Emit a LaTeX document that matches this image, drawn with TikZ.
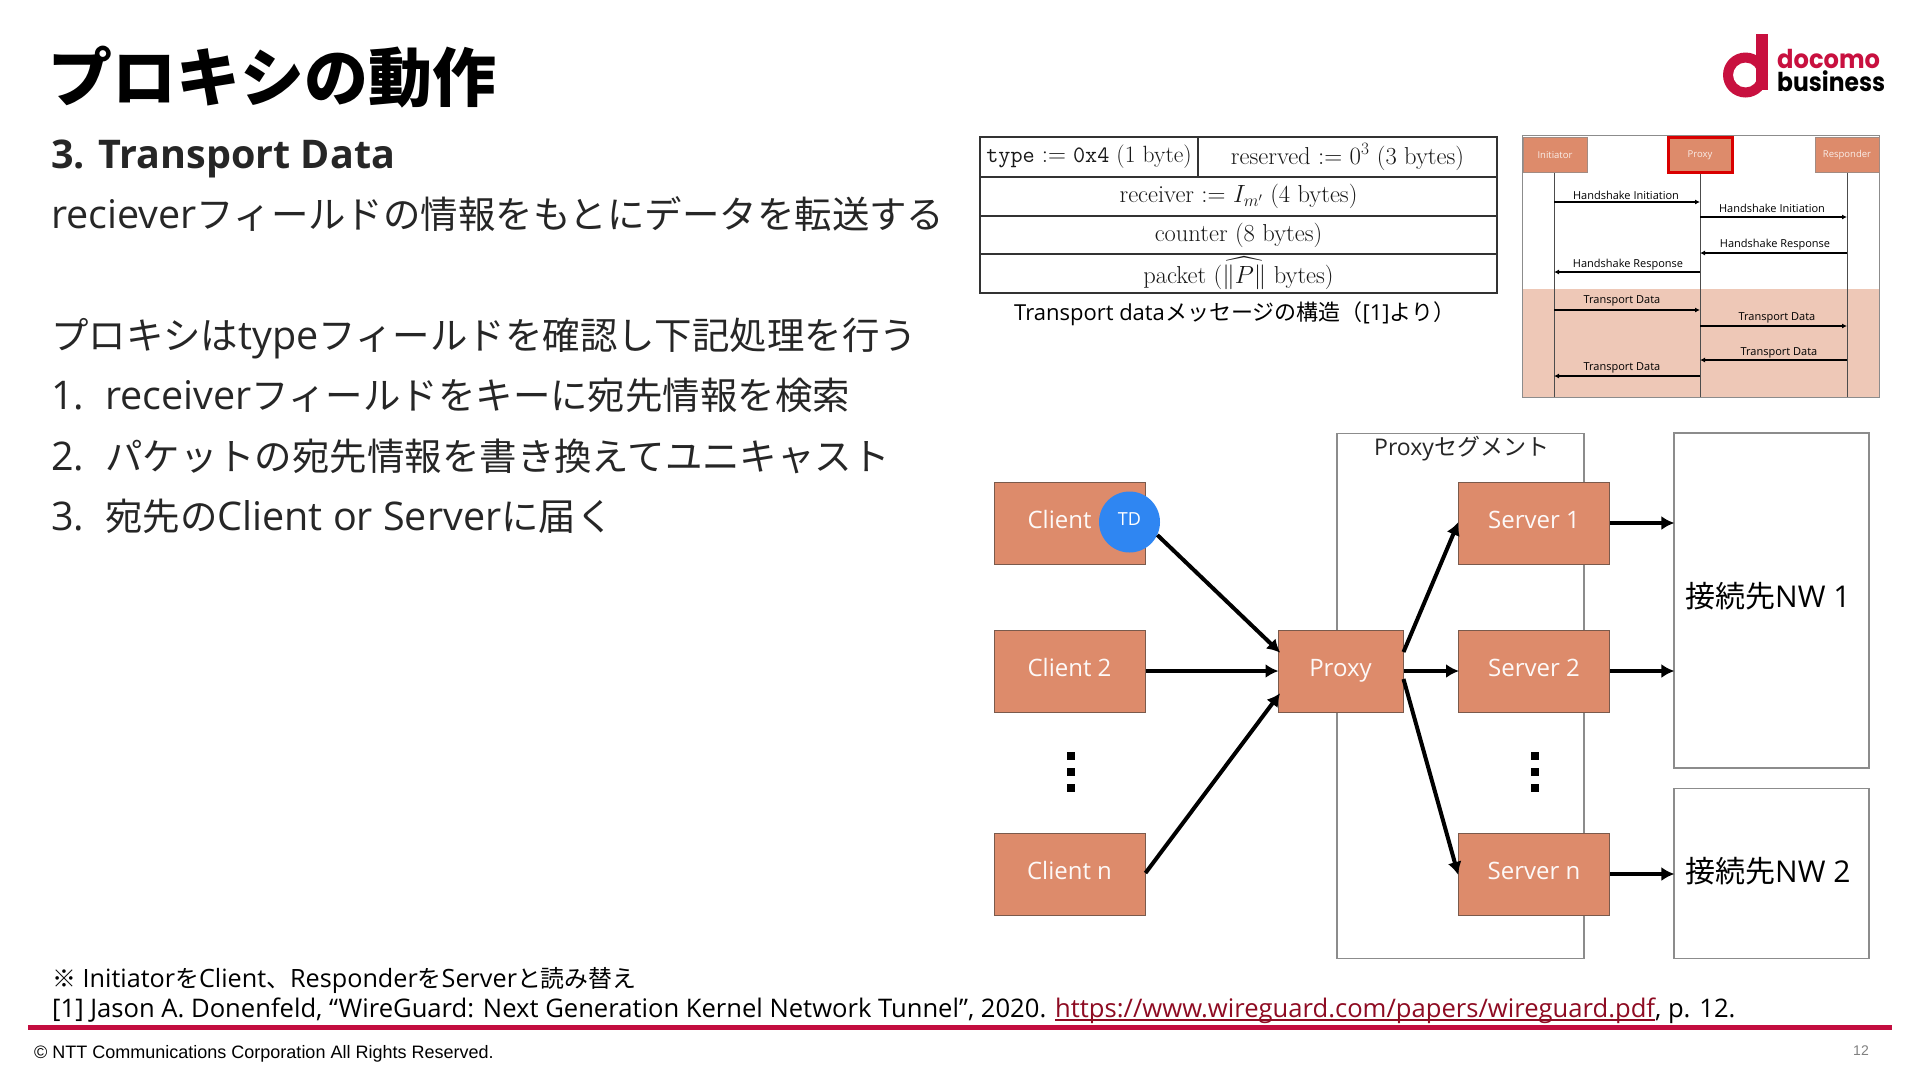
\documentclass[tikz,border=0pt]{standalone}
\usepackage{fontspec}
\usepackage{amsmath}
\usepackage{graphicx}
\usetikzlibrary{arrows.meta}
\setmainfont{Open Sans}
\newfontfamily\jp[Scale=0.948]{Noto Sans CJK JP}
\newfontfamily\jpu{Noto Sans CJK JP}
\newfontfamily\arial{Liberation Sans}
\newfontfamily\logof{Poppins}
\newfontfamily\lmr{Latin Modern Roman}
\newfontfamily\lmt{Latin Modern Mono}
\newcommand{\fs}[1]{\fontsize{#1}{#1}\selectfont}
\newcommand{\J}[1]{{\jp #1}}
\newcommand{\K}[1]{{\jpu #1}}
\newsavebox{\ulbox}
\newcommand{\thickul}[1]{\sbox{\ulbox}{#1}\rlap{\rule[-3.5pt]{\wd\ulbox}{1.5pt}}\usebox{\ulbox}}
\definecolor{txt}{HTML}{262626}
\definecolor{boxfill}{HTML}{DD8B6B}
\definecolor{boxline}{HTML}{7A5A4C}
\definecolor{band}{HTML}{EEC8B7}
\definecolor{rail}{HTML}{C30D3F}
\definecolor{logored}{HTML}{C8103F}
\definecolor{tdblue}{HTML}{2F86F2}
\definecolor{linkred}{HTML}{8E0B22}
\definecolor{framegray}{HTML}{8C8C8C}
\tikzset{
  body/.style={anchor=base west,inner sep=0pt,text=txt,font=\fs{39.5}},
  foot/.style={anchor=base west,inner sep=0pt,text=black,font=\fs{25.6}},
  orange/.style={draw=boxline,line width=1pt,fill=boxfill,text=white!95!boxfill,inner sep=0pt,font=\fs{24},text height=20pt,text depth=10pt},
  plainbox/.style={draw=framegray,line width=1.2pt,fill=none,inner sep=0pt},
  flow/.style={line width=4pt,draw=black,-{Latex[length=13pt,width=14pt]},shorten >=-1pt},
  cell/.style={draw=black!80,line width=2pt,inner sep=0pt,anchor=center,font=\lmr\fs{24.5},text=black!90},
  smallorange/.style={draw=boxline!70,line width=.6pt,fill=boxfill,text=white!85!boxfill,inner sep=0pt,font=\fs{9.5}},
  life/.style={line width=.9pt,draw=black!70},
  msg/.style={line width=1.3pt,draw=black,-{Latex[length=5pt,width=5pt]}},
  msglabel/.style={inner sep=0pt,text=black,font=\fs{11}},
  squaredot/.style={fill=black,inner sep=0pt,minimum size=8pt,draw=none}
}
\begin{document}
\begin{tikzpicture}[x=1pt,y=-1pt]
\useasboundingbox[fill=white] (0,0) rectangle (1920,1080);

% title and body
\node[anchor=base west,inner sep=0pt,text=black,font=\jpu\bfseries\fs{64}] (title) at (48,101) {プロキシの動作};
\node[body,font=\fs{39.5}\bfseries] (sub) at (51,168) {3. Transport Data};
\node[body] (l1) at (51,228) {reciever\J{フィールドの情報をもとにデータを転送する}};
\node[body] (l2) at (51,349) {\J{プロキシは}type\J{フィールドを確認し下記処理を行う}};
\node[body] (n1) at (51,409) {1.};
\node[body] (t1) at (105,409) {receiver\J{フィールドをキーに宛先情報を検索}};
\node[body] (n2) at (51,470) {2.};
\node[body] (t2) at (105,470) {\J{パケットの宛先情報を書き換えてユニキャスト}};
\node[body] (n3) at (51,530) {3.};
\node[body] (t3) at (105,530) {\J{宛先の}Client or Server\J{に届く}};

% logo
\fill[logored,even odd rule] (1745.5,75) circle (22.5) (1745.5,75) circle (12.5);
\fill[logored] (1756,34) rectangle (1768,90);
\node[anchor=base west,inner sep=0pt,text=logored,font=\logof\bfseries\fs{26}] (logo1) at (1777,68) {\scalebox{.93}[1]{docomo}};
\node[anchor=base west,inner sep=0pt,text=black,font=\logof\bfseries\fs{26}] (logo2) at (1777,91) {\scalebox{.90}[1]{business}};

% message format table
\node[cell,font=\lmr\fs{23.5},minimum width=218pt,minimum height=40pt] (c1) at (1089,157) {\lmt type\lmr{} $:=$ \lmt 0x4\lmr{} (1 byte)};
\node[cell,minimum width=299pt,minimum height=40pt] (c2) at (1347.5,157) {reserved $:=$ $0^3$ (3 bytes)};
\node[cell,minimum width=517pt,minimum height=39pt] (c3) at (1238.5,196.5) {receiver $:=$ $I_{m'}$ (4 bytes)};
\node[cell,minimum width=517pt,minimum height=38pt] (c4) at (1238.5,235) {counter (8 bytes)};
\node[cell,minimum width=517pt,minimum height=39pt] (c5) at (1238.5,273.5) {packet ($\widehat{\|P\|}$ bytes)};
\node[anchor=base west,inner sep=0pt,text=black,font=\fs{22}] (cap) at (1014,320) {Transport data\K{メッセージの構造（}[1]\K{より）}};

% sequence diagram
\fill[band] (1523,289) rectangle (1879,397);
\draw[framegray,line width=1pt] (1522,135) rectangle (1879,397);
\node[smallorange,minimum width=64pt,minimum height=35pt] (ini) at (1555,155) {Initiator};
\node[smallorange,minimum width=64pt,minimum height=35pt,draw=red!85!black,line width=3pt] (prx) at (1700,155) {Proxy};
\node[smallorange,minimum width=64pt,minimum height=35pt] (res) at (1847,155) {Responder};
\coordinate (iniend) at (1554,397);
\coordinate (prxend) at (1700,397);
\coordinate (resend) at (1847,397);
\draw[life] (iniend |- ini.south) -- (iniend);
\draw[life] (prxend |- prx.south) -- (prxend);
\draw[life] (resend |- res.south) -- (resend);
\draw[msg] (iniend |- 0,202) -- (prxend |- 0,202);
\draw[msg] (prxend |- 0,217) -- (resend |- 0,217);
\draw[msg] (resend |- 0,253) -- (prxend |- 0,253);
\draw[msg] (prxend |- 0,272) -- (iniend |- 0,272);
\draw[msg] (iniend |- 0,310) -- (prxend |- 0,310);
\draw[msg] (prxend |- 0,326) -- (resend |- 0,326);
\draw[msg] (resend |- 0,360) -- (prxend |- 0,360);
\draw[msg] (prxend |- 0,376) -- (iniend |- 0,376);
\node[msglabel] (m1) at (1626,195) {Handshake Initiation};
\node[msglabel] (m2) at (1772,208) {Handshake Initiation};
\node[msglabel] (m3) at (1775,245) {Handshake Response};
\node[msglabel] (m4) at (1628,265) {Handshake Response};
\node[msglabel] (m5) at (1622,301) {Transport Data};
\node[msglabel] (m6) at (1777,318) {Transport Data};
\node[msglabel] (m7) at (1779,353) {Transport Data};
\node[msglabel] (m8) at (1622,368) {Transport Data};

% network diagram
\node[plainbox,minimum width=247pt,minimum height=525pt] (seg) at (1460.5,696) {};
\node[anchor=base west,inner sep=0pt,text=txt,font=\fs{23}] (seglabel) at (1374,455) {Proxy\K{セグメント}};
\node[plainbox,minimum width=195pt,minimum height=335pt] (nw1) at (1771.5,600.5) {};
\node[plainbox,minimum width=195pt,minimum height=170pt] (nw2) at (1771.5,873.5) {};
\node[anchor=base west,inner sep=0pt,text=black,font=\fs{30}] (nw1l) at (1685,607) {\K{接続先}NW 1};
\node[anchor=base west,inner sep=0pt,text=black,font=\fs{30}] (nw2l) at (1685,882) {\K{接続先}NW 2};

\node[orange,minimum width=151pt,minimum height=82pt] (cl1) at (1069.5,523) {Client 1};
\node[orange,minimum width=151pt,minimum height=82pt] (cl2) at (1069.5,671) {Client 2};
\node[orange,minimum width=151pt,minimum height=82pt] (cln) at (1069.5,874) {Client n};
\node[orange,minimum width=125pt,minimum height=82pt] (px) at (1340.5,671) {Proxy};
\node[orange,minimum width=151pt,minimum height=82pt] (sv1) at (1534,523) {Server 1};
\node[orange,minimum width=151pt,minimum height=82pt] (sv2) at (1534,671) {Server 2};
\node[orange,minimum width=151pt,minimum height=82pt] (svn) at (1534,874) {Server n};
\node[circle,fill=tdblue,draw=none,minimum size=61pt,inner sep=0pt,text=white,font=\fs{18},text height=10pt,text depth=3pt] (td) at (1129.5,522) {TD};

\node[squaredot] (d1) at (1071,756) {};
\node[squaredot] (d2) at (1071,772) {};
\node[squaredot] (d3) at (1071,788) {};
\node[squaredot] (d4) at (1535,756) {};
\node[squaredot] (d5) at (1535,772) {};
\node[squaredot] (d6) at (1535,788) {};

\draw[flow] (td.-25) -- ([xshift=2pt,yshift=19pt]px.west);
\draw[flow] (cl2.east) -- (px.west);
\draw[flow] ([yshift=1pt]cln.east) -- ([xshift=2pt,yshift=-23pt]px.west);
\draw[flow] ([yshift=19pt]px.east) -- (sv1.west);
\draw[flow] (px.east) -- (sv2.west);
\draw[flow] ([yshift=-8pt]px.east) -- (svn.west);
\draw[flow] (sv1.east) -- (nw1.west |- sv1.east);
\draw[flow] (sv2.east) -- (nw1.west |- sv2.east);
\draw[flow] (svn.east) -- (nw2.west |- svn.east);

% footnotes
\node[foot,font=\fs{25.2}] (fn1) at (52,987) {\J{※} Initiator\J{を}Client\J{、}Responder\J{を}Server\J{と読み替え}};
\node[foot] (fn2) at (52,1017) {[1] Jason A. Donenfeld, “WireGuard: Next Generation Kernel Network Tunnel”, 2020. \textcolor{linkred}{\thickul{https://www.wireguard.com/papers/wireguard.pdf}}, p. 12.};
\fill[rail] (28,1025) rectangle (1892,1030);
\node[anchor=base west,inner sep=0pt,text=black,font=\arial\fs{18}] (copy) at (34,1058) {© NTT Communications Corporation All Rights Reserved.};
\node[anchor=base east,inner sep=0pt,text=black!50,font=\arial\fs{14}] (page) at (1869,1055) {12};
\end{tikzpicture}
\end{document}
